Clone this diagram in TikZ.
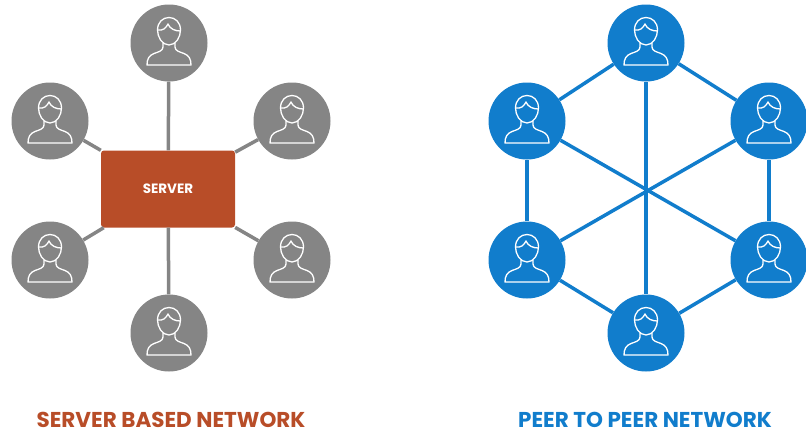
\documentclass[tikz,border=0pt]{standalone}
\usepackage{fontspec}
\setmainfont{Poppins}
\definecolor{ClientFill}{RGB}{133,133,133}
\definecolor{ServerFill}{RGB}{184,77,40}
\definecolor{PeerFill}{RGB}{17,125,204}
\usetikzlibrary{positioning}
\tikzset{
  % Person drawn inside a circle
  user/.pic={
    \draw[white, line width=1.3pt, line join=round]
      (-11.5,-13) .. controls (-11.5,-21) and (-6,-25.5) .. (0,-25.5)
      .. controls (6,-25.5) and (11.5,-21) .. (11.5,-13)
      .. controls (11.5,-6) and (7,2) .. (0,2)
      .. controls (-7,2) and (-11.5,-6) .. (-11.5,-13) -- cycle;
    \draw[white, line width=1.3pt, line join=round]
      (-11.5,-13) .. controls (-6,-12) and (-3,-15) .. (-1,-19)
      .. controls (1,-14) and (6,-12) .. (11.5,-12);
    \draw[white, line width=1.3pt, line join=round]
      (-6,0) -- (-6,4) .. controls (-6,8) and (-11,9) .. (-15,10.5)
      .. controls (-20,12.5) and (-22,16) .. (-22,22) -- (22,22)
      .. controls (22,16) and (20,12.5) .. (15,10.5)
      .. controls (11,9) and (6,8) .. (6,4) -- (6,0);
  },
  % Client circle
  client/.style={
    circle,
    fill=ClientFill,
    minimum size=77pt,
    inner sep=0pt,
    path picture={\pic at (path picture bounding box.center) {user};}
  },
  % Peer circle
  peer/.style={
    circle,
    fill=PeerFill,
    minimum size=77pt,
    inner sep=0pt,
    path picture={\pic at (path picture bounding box.center) {user};}
  },
  % Server box
  server/.style={
    rectangle,
    rounded corners=3pt,
    fill=ServerFill,
    minimum width=134pt,
    minimum height=77pt,
    inner sep=0pt,
    text=white,
    font=\fontsize{13.5}{16}\selectfont\bfseries
  },
  % Edges
  cedge/.style={draw=ClientFill, line width=3.5pt},
  pedge/.style={draw=PeerFill, line width=3.5pt},
  % Titles
  title/.style={font=\fontsize{21.5}{26}\selectfont\bfseries, inner sep=0pt}
}
\begin{document}
\begin{tikzpicture}[x=1pt, y=-1pt]
  \useasboundingbox (0,0) rectangle (806,434);

  % Server based network
  \node[server] (srv) at (168,189) {SERVER};
  \node[client] (c1) at (169,43)  {};
  \node[client] (c2) at (292,121) {};
  \node[client] (c3) at (292,260) {};
  \node[client] (c4) at (169,333) {};
  \node[client] (c5) at (50,260)  {};
  \node[client] (c6) at (50,121)  {};

  \draw[cedge] (srv) -- (c1);
  \draw[cedge] (srv) -- (c2);
  \draw[cedge] (srv) -- (c3);
  \draw[cedge] (srv) -- (c4);
  \draw[cedge] (srv) -- (c5);
  \draw[cedge] (srv) -- (c6);

  % Peer to peer network
  \node[peer] (p1) at (646,43)  {};
  \node[peer] (p2) at (769,121) {};
  \node[peer] (p3) at (769,260) {};
  \node[peer] (p4) at (646,333) {};
  \node[peer] (p5) at (527,260) {};
  \node[peer] (p6) at (527,121) {};

  \draw[pedge] (p1) -- (p2);
  \draw[pedge] (p2) -- (p3);
  \draw[pedge] (p3) -- (p4);
  \draw[pedge] (p4) -- (p5);
  \draw[pedge] (p5) -- (p6);
  \draw[pedge] (p6) -- (p1);
  \draw[pedge] (p1) -- (p4);
  \draw[pedge] (p2) -- (p5);
  \draw[pedge] (p3) -- (p6);

  % Titles
  \node[title, text=ServerFill] (ttl) at (171,420) {SERVER BASED NETWORK};
  \node[title, text=PeerFill] (ttr) at (645,420) {PEER TO PEER NETWORK};
\end{tikzpicture}
\end{document}
